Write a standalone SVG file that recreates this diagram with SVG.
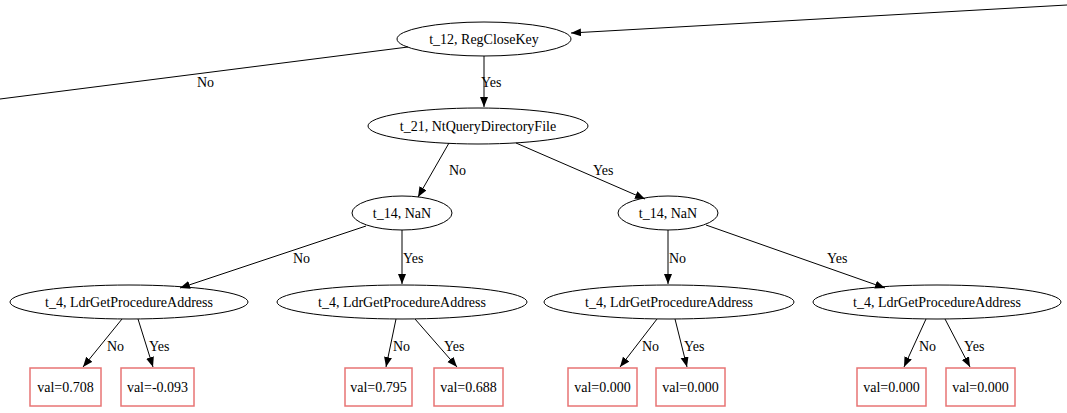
<svg xmlns="http://www.w3.org/2000/svg" width="1067" height="413" viewBox="0 0 1067 413">
<style>
text{font-family:"Liberation Serif","Times New Roman",serif;font-size:14px;fill:#000}
.n ellipse{fill:none;stroke:#000;stroke-width:1}
.n text{text-anchor:middle}
.leaf rect{fill:none;stroke:#e87474;stroke-width:1.5}
.e line{stroke:#000;stroke-width:1;marker-end:url(#ah)}
.e text{text-anchor:start}
</style>
<defs>
<marker id="ah" markerUnits="userSpaceOnUse" markerWidth="12" markerHeight="10" refX="10" refY="4" orient="auto">
<path d="M0,0 L10,4 L0,8 Z" fill="#000"/>
</marker>
</defs>
<rect width="1067" height="413" fill="#fff"/>
<g id="edges" class="e">
<line x1="1067" y1="5" x2="571" y2="33"/>
<line x1="408" y1="47" x2="0" y2="99" style="marker-end:none"/>
<text x="197" y="87">No</text>
<line x1="484" y1="56" x2="484" y2="107"/>
<text x="481" y="87">Yes</text>
<line x1="449" y1="143" x2="418" y2="197"/>
<text x="449" y="175">No</text>
<line x1="516" y1="143" x2="645" y2="199"/>
<text x="593" y="175">Yes</text>
<line x1="366" y1="226" x2="180" y2="288"/>
<text x="293" y="263">No</text>
<line x1="402" y1="230" x2="402" y2="284"/>
<text x="403" y="263">Yes</text>
<line x1="668" y1="230" x2="668" y2="284"/>
<text x="669" y="263">No</text>
<line x1="706" y1="225" x2="885" y2="288"/>
<text x="827" y="263">Yes</text>
<line x1="122" y1="319" x2="83" y2="367"/>
<text x="107" y="351">No</text>
<line x1="138" y1="319" x2="153" y2="367"/>
<text x="149" y="351">Yes</text>
<line x1="396" y1="319" x2="386" y2="367"/>
<text x="393" y="351">No</text>
<line x1="415" y1="319" x2="457" y2="367"/>
<text x="444" y="351">Yes</text>
<line x1="657" y1="319" x2="620" y2="367"/>
<text x="642" y="351">No</text>
<line x1="675" y1="319" x2="687" y2="367"/>
<text x="684" y="351">Yes</text>
<line x1="926" y1="319" x2="904" y2="367"/>
<text x="919" y="351">No</text>
<line x1="945" y1="319" x2="970" y2="367"/>
<text x="964" y="351">Yes</text>
</g>
<g id="n_root" class="n"><ellipse cx="484" cy="39" rx="87" ry="17"/><text x="484" y="44">t_12, RegCloseKey</text></g>
<g id="n_t21" class="n"><ellipse cx="478" cy="126" rx="110" ry="18"/><text x="478" y="131">t_21, NtQueryDirectoryFile</text></g>
<g id="n_t14a" class="n"><ellipse cx="402" cy="213" rx="50" ry="17"/><text x="402" y="218">t_14, NaN</text></g>
<g id="n_t14b" class="n"><ellipse cx="668" cy="213" rx="50" ry="17"/><text x="668" y="218">t_14, NaN</text></g>
<g id="n_t4a" class="n"><ellipse cx="129" cy="302" rx="119" ry="17"/><text x="129" y="307">t_4, LdrGetProcedureAddress</text></g>
<g id="n_t4b" class="n"><ellipse cx="402" cy="302" rx="125" ry="17"/><text x="402" y="307">t_4, LdrGetProcedureAddress</text></g>
<g id="n_t4c" class="n"><ellipse cx="669" cy="302" rx="125" ry="17"/><text x="669" y="307">t_4, LdrGetProcedureAddress</text></g>
<g id="n_t4d" class="n"><ellipse cx="937" cy="302" rx="124" ry="17"/><text x="937" y="307">t_4, LdrGetProcedureAddress</text></g>
<g id="leaf1" class="n leaf"><rect x="30" y="368" width="71" height="38"/><text x="65.5" y="392">val=0.708</text></g>
<g id="leaf2" class="n leaf"><rect x="121" y="368" width="73" height="38"/><text x="157.5" y="392">val=-0.093</text></g>
<g id="leaf3" class="n leaf"><rect x="345" y="368" width="67" height="38"/><text x="378.5" y="392">val=0.795</text></g>
<g id="leaf4" class="n leaf"><rect x="434" y="368" width="69" height="38"/><text x="468.5" y="392">val=0.688</text></g>
<g id="leaf5" class="n leaf"><rect x="568" y="368" width="69" height="38"/><text x="602.5" y="392">val=0.000</text></g>
<g id="leaf6" class="n leaf"><rect x="656" y="368" width="69" height="38"/><text x="690.5" y="392">val=0.000</text></g>
<g id="leaf7" class="n leaf"><rect x="857" y="368" width="69" height="38"/><text x="891.5" y="392">val=0.000</text></g>
<g id="leaf8" class="n leaf"><rect x="946" y="368" width="69" height="38"/><text x="980.5" y="392">val=0.000</text></g>
</svg>
